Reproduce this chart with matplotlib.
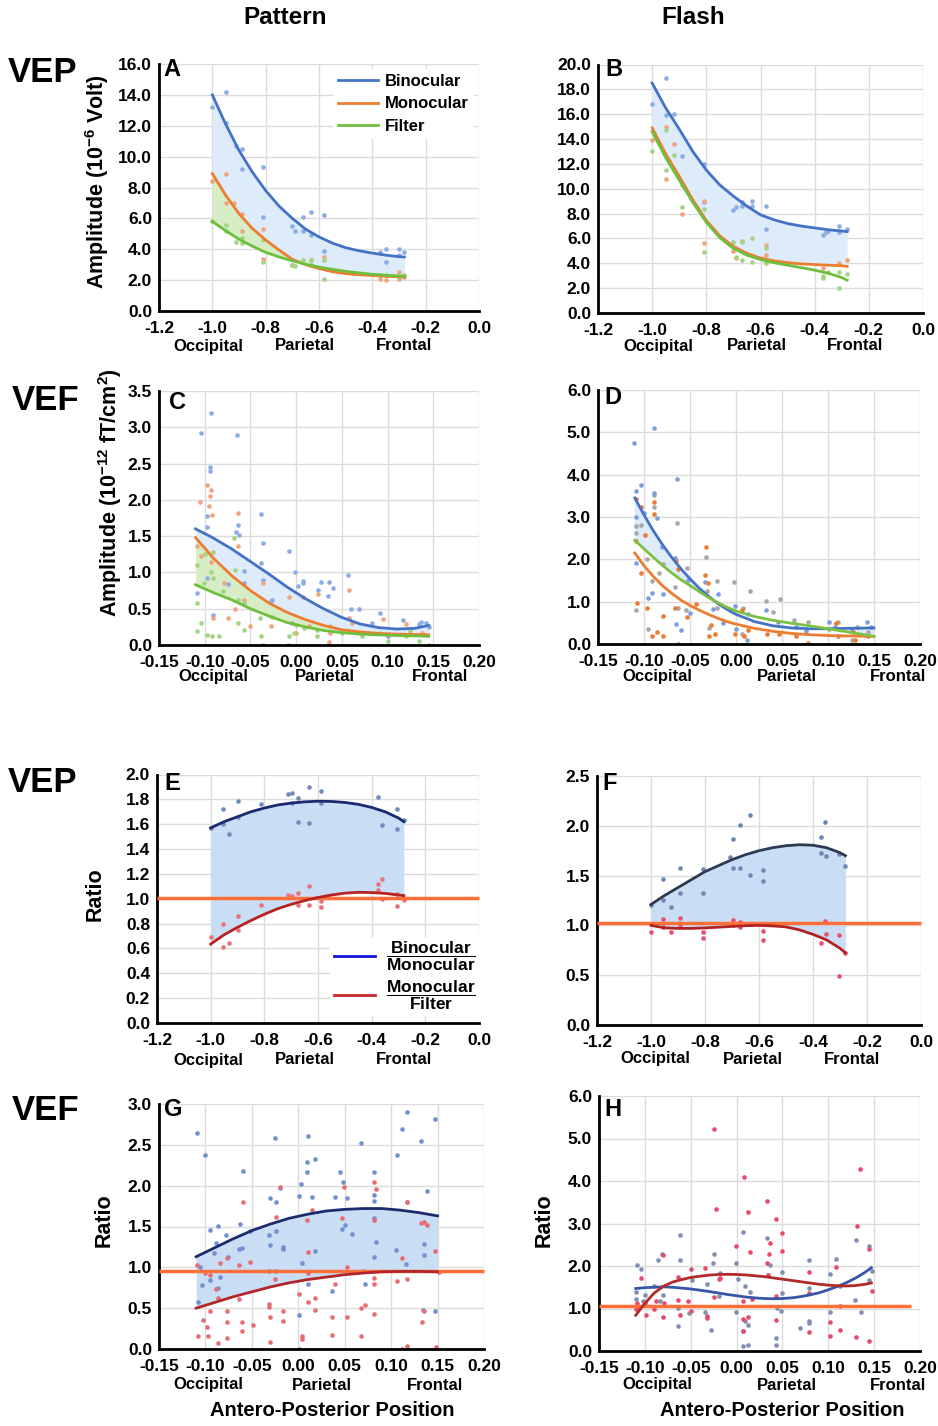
import matplotlib
matplotlib.use('Agg')
import matplotlib.pyplot as plt
from matplotlib.lines import Line2D
import numpy as np

plt.rcParams['font.family'] = ['Liberation Sans', 'DejaVu Sans']
plt.rcParams['font.weight'] = 'bold'
plt.rcParams['mathtext.fontset'] = 'custom'
plt.rcParams['mathtext.rm'] = 'Liberation Sans:bold'
plt.rcParams['mathtext.bf'] = 'Liberation Sans:bold'
plt.rcParams['mathtext.it'] = 'Liberation Sans:bold'
plt.rcParams['axes.unicode_minus'] = False

# %% data: amplitude panels (A-D)

# A - VEP pattern
a_fit_x = [-1.0, -0.95, -0.9, -0.85, -0.8, -0.75, -0.7, -0.65, -0.6, -0.55, -0.5, -0.45, -0.4, -0.35, -0.3, -0.28]
a_bin_fit = [14.0, 12.1, 10.4, 9.0, 7.8, 6.8, 6.0, 5.3, 4.8, 4.4, 4.1, 3.9, 3.75, 3.62, 3.52, 3.5]
a_mon_fit = [8.9, 7.5, 6.3, 5.35, 4.6, 3.95, 3.35, 3.0, 2.75, 2.55, 2.42, 2.35, 2.3, 2.25, 2.22, 2.2]
a_fil_fit = [5.8, 5.2, 4.65, 4.2, 3.8, 3.5, 3.25, 3.03, 2.85, 2.7, 2.57, 2.47, 2.38, 2.32, 2.27, 2.25]
a_bin_pts = [(-1.0, 13.2), (-0.95, 14.2), (-0.95, 12.2), (-0.91, 10.7), (-0.89, 10.5), (-0.89, 9.2),
             (-0.81, 9.3), (-0.81, 6.1), (-0.70, 5.5), (-0.69, 5.2), (-0.66, 6.1), (-0.66, 5.2),
             (-0.63, 6.4), (-0.63, 4.9), (-0.58, 6.2), (-0.58, 3.9), (-0.37, 3.8), (-0.35, 4.0),
             (-0.35, 3.2), (-0.30, 4.0), (-0.28, 3.8), (-0.30, 3.6)]
a_mon_pts = [(-1.0, 8.4), (-0.95, 8.9), (-0.95, 7.0), (-0.92, 7.0), (-0.89, 6.3), (-0.89, 5.2),
             (-0.81, 5.3), (-0.81, 3.4), (-0.70, 3.0), (-0.63, 3.3), (-0.58, 3.5), (-0.37, 2.1),
             (-0.35, 2.0), (-0.30, 2.1), (-0.30, 2.5), (-0.28, 2.2)]
a_fil_pts = [(-1.0, 5.8), (-0.95, 5.6), (-0.95, 5.2), (-0.91, 4.5), (-0.89, 4.4), (-0.89, 4.7),
             (-0.81, 4.6), (-0.81, 3.2), (-0.70, 3.0), (-0.69, 2.9), (-0.66, 3.3), (-0.63, 3.3),
             (-0.63, 3.0), (-0.58, 3.3), (-0.58, 2.1), (-0.37, 2.3), (-0.35, 2.3), (-0.30, 2.2),
             (-0.28, 2.3)]

# B - VEP flash
b_fit_x = [-1.0, -0.95, -0.9, -0.85, -0.8, -0.75, -0.7, -0.65, -0.6, -0.55, -0.5, -0.45, -0.4, -0.35, -0.3, -0.28]
b_bin_fit = [18.5, 16.5, 14.8, 13.0, 11.5, 10.3, 9.4, 8.6, 7.9, 7.5, 7.2, 7.0, 6.85, 6.7, 6.6, 6.55]
b_mon_fit = [14.9, 12.8, 11.0, 9.1, 7.45, 6.2, 5.35, 4.8, 4.42, 4.2, 4.05, 3.95, 3.9, 3.85, 3.8, 3.75]
b_fil_fit = [14.6, 12.5, 10.7, 8.9, 7.3, 6.05, 5.2, 4.65, 4.3, 4.05, 3.85, 3.65, 3.45, 3.2, 2.85, 2.65]
b_bin_pts = [(-1.0, 16.8), (-0.95, 18.9), (-0.95, 15.9), (-0.92, 16.0), (-0.89, 12.6), (-0.81, 12.0),
             (-0.81, 8.9), (-0.70, 8.3), (-0.69, 8.5), (-0.67, 8.9), (-0.67, 8.6), (-0.63, 9.0),
             (-0.63, 8.6), (-0.58, 8.6), (-0.58, 6.8), (-0.37, 6.3), (-0.36, 6.5), (-0.35, 6.6),
             (-0.31, 7.0), (-0.31, 6.5), (-0.28, 6.8)]
b_mon_pts = [(-1.0, 13.9), (-0.95, 15.0), (-0.95, 10.8), (-0.92, 13.6), (-0.89, 8.0), (-0.81, 9.0),
             (-0.81, 5.6), (-0.70, 5.0), (-0.69, 4.4), (-0.67, 5.8), (-0.58, 5.5), (-0.58, 4.7),
             (-0.37, 3.6), (-0.31, 4.0), (-0.28, 4.3)]
b_fil_pts = [(-1.0, 13.0), (-0.95, 14.7), (-0.95, 11.5), (-0.92, 12.7), (-0.89, 10.3), (-0.89, 8.5),
             (-0.81, 8.4), (-0.81, 4.9), (-0.70, 5.7), (-0.69, 4.5), (-0.67, 5.7), (-0.67, 4.3),
             (-0.63, 6.0), (-0.63, 4.1), (-0.58, 5.2), (-0.58, 4.0), (-0.37, 3.0), (-0.37, 2.8),
             (-0.35, 3.3), (-0.31, 3.3), (-0.31, 2.0), (-0.28, 3.1)]

# C - VEF pattern
c_fit_x = [-0.11, -0.09, -0.07, -0.05, -0.03, -0.01, 0.01, 0.03, 0.05, 0.07, 0.09, 0.11, 0.13, 0.145]
c_bin_fit = [1.6, 1.47, 1.32, 1.15, 0.98, 0.8, 0.64, 0.5, 0.38, 0.29, 0.24, 0.22, 0.23, 0.27]
c_mon_fit = [1.48, 1.19, 0.95, 0.75, 0.58, 0.45, 0.35, 0.27, 0.21, 0.18, 0.16, 0.15, 0.145, 0.14]
c_fil_fit = [0.83, 0.72, 0.62, 0.5, 0.4, 0.31, 0.25, 0.2, 0.17, 0.15, 0.14, 0.13, 0.125, 0.12]
c_bin_pts = [(-0.104, 2.92), (-0.093, 3.2), (-0.094, 2.45), (-0.094, 2.4), (-0.097, 1.78), (-0.097, 1.62),
             (-0.065, 2.89), (-0.064, 1.65), (-0.063, 1.52), (-0.066, 1.56), (-0.038, 1.80), (-0.036, 1.40),
             (-0.038, 1.13), (-0.057, 1.02), (-0.057, 0.86), (-0.036, 0.90), (-0.026, 0.62), (-0.008, 1.3),
             (-0.001, 1.0), (0.008, 0.88), (0.008, 0.85), (0.002, 0.81), (0.024, 0.76), (0.027, 0.87),
             (0.036, 0.87), (0.040, 0.79), (0.035, 0.67), (0.057, 0.96), (0.060, 0.50), (0.069, 0.49),
             (0.092, 0.44), (0.117, 0.35), (0.137, 0.32), (0.134, 0.29), (-0.098, 0.93), (-0.108, 0.71),
             (-0.091, 0.42), (-0.074, 0.84), (-0.027, 0.61), (-0.004, 0.31), (0.083, 0.31), (0.100, 0.12),
             (0.142, 0.30), (0.145, 0.25)]
c_mon_pts = [(-0.105, 1.97), (-0.098, 2.2), (-0.093, 2.13), (-0.094, 2.05), (-0.095, 1.91), (-0.092, 1.79),
             (-0.064, 1.82), (-0.064, 1.36), (-0.108, 1.36), (-0.104, 1.23), (-0.093, 1.14), (-0.079, 0.86),
             (-0.067, 0.49), (-0.091, 0.37), (-0.074, 0.37), (-0.057, 0.62), (-0.036, 0.85), (-0.028, 0.26),
             (-0.008, 0.66), (0.008, 0.66), (0.024, 0.70), (0.058, 0.76), (0.058, 0.37), (0.061, 0.31),
             (0.095, 0.36), (0.120, 0.29), (0.036, 0.04), (0.138, 0.17), (0.0, 0.17), (0.014, 0.26),
             (-0.050, 0.26), (0.037, 0.17)]
c_fil_pts = [(-0.108, 1.1), (-0.100, 1.26), (-0.093, 1.0), (-0.091, 0.93), (-0.101, 0.85), (-0.108, 0.58),
             (-0.104, 0.3), (-0.108, 0.19), (-0.098, 0.14), (-0.092, 0.13), (-0.084, 0.12), (-0.064, 0.30),
             (-0.057, 0.21), (-0.064, 0.62), (-0.080, 0.74), (-0.067, 1.04), (-0.057, 0.58), (-0.039, 0.37),
             (-0.038, 0.12), (-0.036, 0.0), (-0.026, 0.39), (-0.008, 0.12), (-0.009, 0.0), (0.0, 0.28),
             (0.009, 0.23), (0.023, 0.12), (0.037, 0.26), (0.050, 0.17), (0.072, 0.12), (0.092, 0.17),
             (0.100, 0.05), (0.120, 0.12), (0.134, 0.05), (0.125, 0.19), (0.023, 0.21), (-0.002, 0.17),
             (-0.068, 1.47), (-0.091, 1.28), (0.145, 0.0)]

# D - VEF flash
d_fit_x = [-0.11, -0.1, -0.09, -0.08, -0.07, -0.06, -0.05, -0.04, -0.03, -0.02, -0.01, 0.0, 0.02, 0.04, 0.06, 0.08, 0.10, 0.12, 0.15]
d_bin_fit = [3.45, 3.05, 2.68, 2.35, 2.05, 1.78, 1.54, 1.32, 1.13, 0.96, 0.82, 0.7, 0.53, 0.43, 0.38, 0.36, 0.36, 0.37, 0.38]
d_mon_fit = [2.15, 1.85, 1.6, 1.38, 1.2, 1.04, 0.91, 0.8, 0.7, 0.61, 0.53, 0.47, 0.37, 0.3, 0.25, 0.22, 0.2, 0.19, 0.18]
d_fil_fit = [2.45, 2.25, 2.05, 1.86, 1.68, 1.52, 1.38, 1.24, 1.1, 0.98, 0.87, 0.78, 0.65, 0.56, 0.49, 0.43, 0.36, 0.29, 0.18]
d_bin_pts = [(-0.111, 4.74), (-0.089, 5.11), (-0.103, 3.76), (-0.109, 3.61), (-0.089, 3.57), (-0.064, 3.89),
             (-0.086, 2.97), (-0.109, 2.99), (-0.100, 3.1), (-0.109, 1.91), (-0.096, 1.08), (-0.091, 1.2),
             (-0.080, 2.29), (-0.079, 1.19), (-0.066, 2.03), (-0.052, 1.52), (-0.065, 0.48), (-0.034, 1.46),
             (-0.020, 1.17), (-0.025, 0.82), (-0.001, 0.9), (0.0, 0.36), (0.013, 0.72), (0.033, 0.81),
             (0.046, 0.53), (0.065, 0.39), (0.101, 0.53), (0.108, 0.39), (0.142, 0.53), (0.147, 0.39),
             (0.126, 0.35), (0.076, 0.30), (0.012, 0.09), (-0.014, 0.49), (-0.050, 0.73), (-0.060, 0.33)]
d_mon_pts = [(-0.109, 3.42), (-0.089, 3.35), (-0.089, 3.06), (-0.103, 3.24), (-0.099, 2.58), (-0.109, 2.43),
             (-0.103, 1.67), (-0.108, 0.97), (-0.097, 0.84), (-0.091, 0.18), (-0.086, 0.28), (-0.079, 0.18),
             (-0.079, 0.66), (-0.065, 1.97), (-0.063, 1.76), (-0.066, 0.86), (-0.063, 0.0), (-0.053, 0.63),
             (-0.033, 2.29), (-0.034, 1.64), (-0.030, 1.43), (-0.027, 0.44), (-0.023, 0.24), (-0.029, 0.18),
             (-0.001, 0.24), (0.006, 0.8), (0.013, 0.33), (0.009, 0.18), (0.034, 0.24), (0.047, 0.24),
             (0.065, 0.18), (0.078, 0.02), (0.109, 0.49), (0.111, 0.18), (0.127, 0.28), (0.129, 0.09),
             (0.143, 0.18), (-0.044, 0.95)]
d_fil_pts = [(-0.109, 2.78), (-0.103, 2.82), (-0.109, 2.62), (-0.089, 3.51), (-0.089, 3.24), (-0.097, 2.0),
             (-0.091, 1.5), (-0.084, 1.67), (-0.079, 1.89), (-0.064, 2.86), (-0.066, 1.34), (-0.063, 0.84),
             (-0.053, 1.79), (-0.054, 0.81), (-0.033, 2.05), (-0.031, 1.26), (-0.021, 1.5), (-0.021, 0.86),
             (-0.029, 0.37), (-0.002, 1.46), (0.015, 1.26), (0.008, 0.86), (0.006, 0.24), (0.033, 1.01),
             (0.048, 1.06), (0.040, 0.76), (0.063, 0.56), (0.078, 0.53), (0.076, 0.35), (0.101, 0.35),
             (0.111, 0.53), (0.131, 0.41), (0.143, 0.28), (0.126, 0.09), (-0.096, 0.36), (-0.109, 0.81)]

# %% data: ratio panels (E-H)

# E - VEP pattern ratios
e_fit_x = [-1.0, -0.95, -0.9, -0.85, -0.8, -0.75, -0.7, -0.65, -0.6, -0.55, -0.5, -0.45, -0.4, -0.35, -0.3, -0.28]
e_bm_fit = [1.57, 1.62, 1.66, 1.70, 1.73, 1.755, 1.77, 1.78, 1.785, 1.783, 1.775, 1.76, 1.735, 1.70, 1.65, 1.62]
e_mf_fit = [0.635, 0.71, 0.77, 0.825, 0.875, 0.92, 0.955, 0.985, 1.01, 1.03, 1.045, 1.052, 1.05, 1.043, 1.03, 1.025]
e_bm_pts = [(-1.0, 1.57), (-0.955, 1.72), (-0.955, 1.6), (-0.93, 1.52), (-0.897, 1.79), (-0.897, 1.66),
            (-0.811, 1.76), (-0.71, 1.84), (-0.697, 1.85), (-0.696, 1.77), (-0.673, 1.81), (-0.675, 1.62),
            (-0.635, 1.9), (-0.635, 1.61), (-0.588, 1.87), (-0.588, 1.77), (-0.375, 1.82), (-0.362, 1.59),
            (-0.306, 1.72), (-0.306, 1.56), (-0.281, 1.63)]
e_mf_pts = [(-1.0, 0.69), (-0.955, 0.8), (-0.955, 0.61), (-0.93, 0.64), (-0.897, 0.86), (-0.897, 0.75),
            (-0.811, 0.95), (-0.71, 1.03), (-0.697, 1.02), (-0.673, 1.05), (-0.673, 0.95), (-0.635, 1.1),
            (-0.635, 0.95), (-0.588, 0.98), (-0.588, 0.93), (-0.375, 1.12), (-0.362, 1.16), (-0.375, 1.07),
            (-0.362, 1.0), (-0.306, 1.04), (-0.306, 0.94), (-0.281, 0.99)]
e_ref_level = 1.01

# F - VEP flash ratios
f_fit_x = [-1.0, -0.95, -0.9, -0.85, -0.8, -0.75, -0.7, -0.65, -0.6, -0.55, -0.5, -0.45, -0.4, -0.35, -0.3, -0.28]
f_bm_fit = [1.21, 1.30, 1.38, 1.46, 1.54, 1.60, 1.66, 1.71, 1.75, 1.78, 1.80, 1.81, 1.805, 1.78, 1.73, 1.70]
f_mf_fit = [1.0, 0.975, 0.97, 0.97, 0.975, 0.982, 0.99, 0.997, 1.0, 0.995, 0.985, 0.955, 0.91, 0.855, 0.77, 0.725]
f_bm_pts = [(-1.0, 1.2), (-0.954, 1.47), (-0.954, 1.26), (-0.926, 1.18), (-0.893, 1.58), (-0.893, 1.33),
            (-0.808, 1.57), (-0.808, 1.33), (-0.697, 1.87), (-0.706, 1.69), (-0.697, 1.58), (-0.671, 2.01),
            (-0.671, 1.58), (-0.633, 2.11), (-0.633, 1.51), (-0.585, 1.56), (-0.585, 1.45), (-0.372, 1.89),
            (-0.357, 2.04), (-0.372, 1.73), (-0.353, 1.70), (-0.304, 1.72), (-0.28, 1.6)]
f_mf_pts = [(-1.0, 0.93), (-0.954, 1.06), (-0.954, 0.98), (-0.926, 0.93), (-0.893, 1.07), (-0.893, 1.0),
            (-0.808, 0.93), (-0.808, 0.87), (-0.697, 1.05), (-0.697, 1.0), (-0.671, 1.03), (-0.671, 0.98),
            (-0.585, 0.94), (-0.585, 0.85), (-0.372, 0.82), (-0.357, 1.04), (-0.353, 0.91), (-0.304, 0.9),
            (-0.304, 0.49), (-0.28, 0.72)]
f_ref_level = 1.02

# G - VEF pattern ratios
g_fit_x = [-0.11, -0.09, -0.07, -0.05, -0.03, -0.01, 0.01, 0.03, 0.05, 0.07, 0.09, 0.11, 0.13, 0.15]
g_bm_fit = [1.13, 1.24, 1.35, 1.45, 1.53, 1.6, 1.65, 1.69, 1.71, 1.72, 1.72, 1.70, 1.67, 1.63]
g_mf_fit = [0.5, 0.57, 0.64, 0.7, 0.76, 0.81, 0.85, 0.88, 0.91, 0.93, 0.945, 0.95, 0.95, 0.945]
g_bm_pts = [(-0.109, 2.64), (-0.101, 2.38), (-0.060, 2.18), (-0.025, 2.58), (0.010, 2.61), (0.009, 2.29),
            (0.018, 2.33), (0.009, 2.17), (0.003, 2.02), (0.001, 1.87), (0.015, 1.86), (0.039, 1.86),
            (0.045, 2.17), (0.048, 2.05), (0.052, 1.85), (0.068, 2.52), (0.082, 2.17), (0.082, 1.88),
            (0.082, 1.81), (0.082, 1.6), (0.084, 1.31), (0.082, 1.13), (0.106, 2.37), (0.112, 2.7),
            (0.117, 2.9), (0.117, 1.8), (0.132, 2.55), (0.139, 1.93), (0.147, 2.82), (0.135, 1.28),
            (0.135, 1.15), (0.147, 0.47), (0.134, 0.48), (0.105, 1.21), (0.116, 1.04), (0.058, 1.41),
            (0.050, 1.52), (0.047, 1.47), (0.036, 0.71), (0.001, 0.42), (0.010, 0.79), (0.018, 1.2),
            (0.004, 1.05), (-0.016, 1.23), (-0.017, 1.25), (-0.032, 1.39), (-0.030, 1.27), (-0.024, 1.44),
            (-0.024, 1.8), (-0.020, 1.97), (-0.030, 1.85), (-0.052, 1.45), (-0.063, 1.53), (-0.061, 1.24),
            (-0.064, 1.23), (-0.078, 1.4), (-0.076, 1.13), (-0.086, 1.51), (-0.089, 1.3), (-0.095, 1.46),
            (-0.091, 1.17), (-0.084, 0.88), (-0.095, 0.85), (-0.104, 0.78), (-0.108, 0.57), (-0.106, 1.0),
            (-0.086, 0.75), (-0.032, 0.96), (-0.024, 0.96), (0.072, 0.80), (0.070, 0.96)]
g_mf_pts = [(-0.109, 1.03), (-0.101, 0.93), (-0.095, 0.91), (-0.089, 0.73), (-0.084, 1.05), (-0.077, 1.12),
            (-0.060, 1.8), (-0.064, 1.03), (-0.052, 1.07), (-0.064, 0.61), (-0.061, 0.33), (-0.049, 0.29),
            (-0.061, 0.22), (-0.077, 0.46), (-0.077, 0.33), (-0.077, 0.14), (-0.086, 0.07), (-0.097, 0.16),
            (-0.108, 0.16), (-0.098, 0.27), (-0.103, 0.35), (-0.095, 0.47), (-0.086, 0.62), (-0.024, 1.62),
            (-0.020, 1.98), (-0.025, 0.86), (-0.032, 0.55), (-0.032, 0.52), (-0.030, 0.39), (-0.030, 0.08),
            (-0.016, 0.46), (-0.016, 0.34), (0.001, 0.67), (0.004, 0.16), (0.004, 0.12), (0.001, 0.0),
            (0.010, 0.57), (0.018, 0.63), (0.018, 0.48), (0.010, 1.19), (0.010, 0.93), (0.015, 1.7),
            (0.009, 1.58), (0.036, 0.39), (0.036, 0.17), (0.039, 0.8), (0.047, 1.6), (0.049, 1.98),
            (0.052, 0.39), (0.052, 1.01), (0.068, 0.5), (0.068, 0.16), (0.072, 0.54), (0.082, 2.05),
            (0.084, 1.96), (0.082, 1.58), (0.082, 0.87), (0.082, 0.79), (0.082, 0.43), (0.106, 0.83),
            (0.112, 1.11), (0.117, 1.8), (0.117, 0.86), (0.112, 0.0), (0.117, 0.04), (0.132, 1.54),
            (0.135, 1.55), (0.139, 1.52), (0.133, 0.33), (0.135, 0.46), (0.147, 1.2), (0.148, 0.02),
            (0.151, 0.94)]
g_ref_level = 0.95

# H - VEF flash ratios
h_fit_x = [-0.11, -0.10, -0.09, -0.08, -0.07, -0.06, -0.05, -0.04, -0.03, -0.02, -0.01, 0.0, 0.01, 0.02,
           0.03, 0.04, 0.05, 0.06, 0.07, 0.08, 0.09, 0.10, 0.11, 0.12, 0.13, 0.14, 0.147]
h_bm_fit = [1.47, 1.49, 1.5, 1.51, 1.5, 1.48, 1.46, 1.43, 1.4, 1.365, 1.33, 1.3, 1.27, 1.25,
            1.235, 1.23, 1.235, 1.25, 1.28, 1.32, 1.37, 1.44, 1.52, 1.61, 1.72, 1.85, 1.96]
h_mf_fit = [0.84, 1.12, 1.36, 1.52, 1.62, 1.68, 1.73, 1.76, 1.785, 1.8, 1.805, 1.8, 1.79, 1.77,
            1.75, 1.72, 1.69, 1.66, 1.63, 1.6, 1.57, 1.55, 1.535, 1.53, 1.54, 1.57, 1.6]
h_bm_pts = [(-0.109, 2.03), (-0.104, 1.93), (-0.11, 1.38), (-0.11, 1.23), (-0.1, 1.32), (-0.102, 1.18),
            (-0.090, 1.53), (-0.086, 2.14), (-0.081, 2.28), (-0.080, 1.32), (-0.083, 1.18), (-0.062, 2.74),
            (-0.062, 2.13), (-0.064, 1.02), (-0.064, 0.58), (-0.049, 1.67), (-0.052, 0.9), (-0.032, 1.58),
            (-0.025, 2.28), (-0.026, 2.08), (-0.028, 0.5), (-0.034, 0.92), (-0.018, 1.83), (-0.019, 1.29),
            (-0.001, 2.08), (0.002, 1.69), (-0.001, 0.92), (0.007, 2.81), (0.009, 1.53), (0.007, 0.46),
            (0.009, 0.7), (0.013, 0.62), (0.013, 0.15), (0.007, 0.11), (0.015, 1.39), (0.033, 2.67),
            (0.034, 1.8), (0.036, 2.03), (0.043, 0.3), (0.043, 0.15), (0.044, 1.02), (0.048, 0.94),
            (0.049, 1.86), (0.049, 1.36), (0.069, 0.53), (0.079, 2.14), (0.079, 1.49), (0.079, 0.7),
            (0.079, 0.66), (0.102, 1.81), (0.102, 0.92), (0.108, 2.17), (0.113, 1.53), (0.130, 2.61),
            (0.129, 1.2), (0.136, 0.92), (0.144, 2.47), (0.144, 1.67), (0.148, 1.88)]
h_mf_pts = [(-0.109, 1.14), (-0.109, 1.0), (-0.11, 0.99), (-0.104, 1.71), (-0.099, 0.84), (-0.1, 1.14),
            (-0.090, 0.99), (-0.088, 1.18), (-0.080, 2.25), (-0.080, 0.81), (-0.079, 1.14), (-0.064, 1.75),
            (-0.064, 1.2), (-0.062, 0.84), (-0.053, 1.18), (-0.050, 1.92), (-0.050, 0.94), (-0.034, 1.96),
            (-0.032, 0.78), (-0.032, 0.83), (-0.025, 5.22), (-0.025, 1.28), (-0.022, 3.35), (-0.019, 1.69),
            (-0.018, 1.71), (-0.001, 2.47), (0.007, 1.18), (0.007, 0.75), (0.007, 0.46), (0.008, 4.09),
            (0.012, 3.27), (0.012, 0.81), (0.015, 2.33), (0.017, 1.22), (0.033, 3.53), (0.036, 2.53),
            (0.035, 2.28), (0.033, 2.06), (0.034, 1.8), (0.043, 3.1), (0.043, 1.3), (0.043, 0.73),
            (0.049, 2.77), (0.049, 2.36), (0.079, 1.86), (0.079, 1.37), (0.079, 0.45), (0.102, 0.68),
            (0.102, 0.35), (0.108, 1.98), (0.113, 1.06), (0.113, 0.49), (0.130, 0.34), (0.131, 2.94),
            (0.135, 4.28), (0.144, 0.24), (0.144, 2.41), (0.148, 1.41)]
h_ref_level = 1.06
h_ref_span = (-0.15, 0.19)

# tick positions
ap_xticks = [-1.2, -1.0, -0.8, -0.6, -0.4, -0.2, 0.0]
ms_xticks = [-0.15, -0.10, -0.05, 0.00, 0.05, 0.10, 0.15, 0.20]

# %% colours
c_bin, c_mon, c_fil = '#4472C4', '#ED7D31', '#6FBF3F'
p_bin, p_mon, p_fil = '#8DACE3', '#F0A57E', '#A3D485'
fill_blue, fill_green = '#DDEBFA', '#D7EDC6'
ratio_fill = '#C9DDF5'
ref_col = '#FF7038'

# %% figure
W, H = 938, 1426
fig = plt.figure(figsize=(W / 100, H / 100), dpi=100)


def px_axes(left, top, right, bottom):
    return fig.add_axes([left / W, 1 - bottom / H, (right - left) / W, (bottom - top) / H])


def ftext(x, y, s, **kw):
    fig.text(x / W, 1 - y / H, s, **kw)


def style(ax, xticks, xfmt, ylim, ystep):
    ax.set_xlim(xticks[0], xticks[-1])
    ax.set_xticks(xticks)
    ax.set_xticklabels([xfmt % t for t in xticks])
    yt = np.round(np.arange(ylim[0], ylim[1] + ystep / 2, ystep), 2)
    ax.set_ylim(ylim)
    ax.set_yticks(yt)
    ax.set_yticklabels(['%.1f' % t for t in yt])
    ax.grid(True, color='#DCDCDC', lw=1)
    ax.set_axisbelow(True)
    for s in ['top', 'right']:
        ax.spines[s].set_visible(False)
    for s in ['left', 'bottom']:
        ax.spines[s].set_linewidth(2.0)
        ax.spines[s].set_color('black')
    ax.tick_params(axis='both', length=0, labelsize=12.5)
    ax.tick_params(axis='x', pad=7)
    ax.tick_params(axis='y', pad=5)


def pts(ax, p, color):
    x, y = np.array(p).T
    ax.scatter(x, y, s=11, color=color, lw=0, zorder=2)


def regions(xs, y):
    for x, s in zip(xs, ['Occipital', 'Parietal', 'Frontal']):
        ftext(x, y, s, ha='center', va='center', fontsize=12)


# panel A
axA = px_axes(159, 64, 479, 311)
style(axA, ap_xticks, '%.1f', (0, 16), 2)
axA.fill_between(a_fit_x, a_bin_fit, a_mon_fit, color=fill_blue, lw=0, zorder=1)
axA.fill_between(a_fit_x, a_mon_fit, a_fil_fit, where=np.array(a_mon_fit) >= np.array(a_fil_fit),
                 interpolate=True, color=fill_green, lw=0, zorder=1)
pts(axA, a_bin_pts, p_bin)
pts(axA, a_mon_pts, p_mon)
pts(axA, a_fil_pts, p_fil)
axA.plot(a_fit_x, a_bin_fit, color=c_bin, lw=2, label='Binocular', zorder=3)
axA.plot(a_fit_x, a_mon_fit, color=c_mon, lw=2, label='Monocular', zorder=3)
axA.plot(a_fit_x, a_fil_fit, color=c_fil, lw=2, label='Filter', zorder=3)
leg = axA.legend(loc='upper right', bbox_to_anchor=(1.0, 1.0), fontsize=12, frameon=True,
                 facecolor='white', edgecolor='none', framealpha=1, fancybox=False,
                 handlelength=2.4, handletextpad=0.4, labelspacing=0.45, borderpad=0.3,
                 borderaxespad=0.3)

# panel B
axB = px_axes(598, 64.5, 923, 313)
style(axB, ap_xticks, '%.1f', (0, 20), 2)
axB.fill_between(b_fit_x, b_bin_fit, b_mon_fit, color=fill_blue, lw=0, zorder=1)
pts(axB, b_bin_pts, p_bin)
pts(axB, b_mon_pts, p_mon)
pts(axB, b_fil_pts, p_fil)
axB.plot(b_fit_x, b_bin_fit, color=c_bin, lw=2, zorder=3)
axB.plot(b_fit_x, b_mon_fit, color=c_mon, lw=2, zorder=3)
axB.plot(b_fit_x, b_fil_fit, color=c_fil, lw=2, zorder=3)

# panel C
axC = px_axes(159, 391, 479, 645)
style(axC, ms_xticks, '%.2f', (0, 3.5), 0.5)
axC.fill_between(c_fit_x, c_bin_fit, c_mon_fit, color=fill_blue, lw=0, zorder=1)
axC.fill_between(c_fit_x, c_mon_fit, c_fil_fit, color=fill_green, lw=0, zorder=1)
pts(axC, c_bin_pts, p_bin)
pts(axC, c_mon_pts, p_mon)
pts(axC, c_fil_pts, p_fil)
axC.plot(c_fit_x, c_bin_fit, color=c_bin, lw=2, zorder=3)
axC.plot(c_fit_x, c_mon_fit, color=c_mon, lw=2, zorder=3)
axC.plot(c_fit_x, c_fil_fit, color=c_fil, lw=2, zorder=3)

# panel D
axD = px_axes(598, 390, 920, 644)
style(axD, ms_xticks, '%.2f', (0, 6), 1)
axD.fill_between(d_fit_x, d_bin_fit, d_fil_fit, where=np.array(d_bin_fit) >= np.array(d_fil_fit),
                 interpolate=True, color=fill_blue, lw=0, zorder=1)
pts(axD, d_fil_pts, '#A8A8A8')
pts(axD, d_bin_pts, '#7C9EE0')
pts(axD, d_mon_pts, '#EE7B2F')
axD.plot(d_fit_x, d_bin_fit, color=c_bin, lw=2, zorder=3)
axD.plot(d_fit_x, d_mon_fit, color=c_mon, lw=2, zorder=3)
axD.plot(d_fit_x, d_fil_fit, color='#7CC242', lw=2, zorder=3)


def ratio_panel(ax, fx, bm, mf, bm_p, mf_p, ref, span, cols, fill=True):
    if fill:
        ax.fill_between(fx, bm, mf, color=ratio_fill, lw=0, zorder=1)
    pts(ax, bm_p, cols[2])
    pts(ax, mf_p, cols[3])
    ax.hlines(ref, span[0], span[1], color=ref_col, lw=2.5, zorder=3, clip_on=False)
    ax.plot(fx, bm, color=cols[0], lw=2, zorder=4)
    ax.plot(fx, mf, color=cols[1], lw=2, zorder=4)


# panel E
axE = px_axes(157, 774.5, 479, 1023)
style(axE, ap_xticks, '%.1f', (0, 2.0), 0.2)
ratio_panel(axE, e_fit_x, e_bm_fit, e_mf_fit, e_bm_pts, e_mf_pts, e_ref_level, (-1.2, 0.0),
            ['#1B2A6E', '#B52222', '#6F8CBA', '#E8737E'])
handles = [Line2D([], [], color='#1414E0', lw=2), Line2D([], [], color='#C8262D', lw=2)]
labels = [r'$\dfrac{\mathbf{Binocular}}{\mathbf{Monocular}}$', r'$\dfrac{\mathbf{Monocular}}{\mathbf{Filter}}$']
axE.legend(handles, labels, loc='lower right', bbox_to_anchor=(1.0, 0.03), fontsize=12.5,
           frameon=True, facecolor='white', edgecolor='none', framealpha=1, fancybox=False,
           handlelength=2.4, handletextpad=0.6, labelspacing=0.3, borderpad=0.2, borderaxespad=0)

# panel F
axF = px_axes(597, 776, 921, 1025)
style(axF, ap_xticks, '%.1f', (0, 2.5), 0.5)
ratio_panel(axF, f_fit_x, f_bm_fit, f_mf_fit, f_bm_pts, f_mf_pts, f_ref_level, (-1.2, 0.0),
            ['#2E3A52', '#B22222', '#6F87B3', '#E8506E'])

# panel G
axG = px_axes(159, 1104, 484, 1349)
style(axG, ms_xticks, '%.2f', (0, 3.0), 0.5)
ratio_panel(axG, g_fit_x, g_bm_fit, g_mf_fit, g_bm_pts, g_mf_pts, g_ref_level, (-0.15, 0.20),
            ['#1B2B6B', '#B0262A', '#7090CF', '#E86C73'])

# panel H
axH = px_axes(599, 1096, 920, 1351)
style(axH, ms_xticks, '%.2f', (0, 6.0), 1.0)
ratio_panel(axH, h_fit_x, h_bm_fit, h_mf_fit, h_bm_pts, h_mf_pts, h_ref_level, h_ref_span,
            ['#3756A8', '#B22A2A', '#8090B0', '#E84A6C'], fill=False)

# %% text
ftext(285, 18, 'Pattern', ha='center', va='center', fontsize=17.5)
ftext(693, 18, 'Flash', ha='center', va='center', fontsize=17.5)
for y, s in [(73, 'VEP'), (401, 'VEF'), (783, 'VEP'), (1110, 'VEF')]:
    ftext(8 if s == 'VEP' else 12, y, s, ha='left', va='center', fontsize=25)
for x, y, s in [(163, 70, 'A'), (605, 70, 'B'), (169, 403, 'C'), (604, 398, 'D'),
                (164, 783, 'E'), (602, 783, 'F'), (164, 1110, 'G'), (604, 1109, 'H')]:
    ftext(x, y, s, ha='left', va='center', fontsize=17)

ftext(97, 182, r'Amplitude (10$^{\mathbf{-6}}$ Volt)', rotation=90, ha='center', va='center', fontsize=15.5)
ftext(110, 493, r'Amplitude (10$^{\mathbf{-12}}$ fT/cm$^{\mathbf{2}}$)', rotation=90, ha='center', va='center', fontsize=15.5)
ftext(95, 894, 'Ratio', rotation=90, ha='center', va='center', fontsize=15.5)
ftext(104, 1220, 'Ratio', rotation=90, ha='center', va='center', fontsize=15.5)
ftext(544, 1220, 'Ratio', rotation=90, ha='center', va='center', fontsize=15.5)

regions([208, 305, 404], 346)
regions([658, 757, 855], 346)
regions([213, 325, 440], 677)
regions([657, 787, 898], 676)
regions([208, 305, 404], 1060)
regions([655, 753, 852], 1059)
regions([208, 322, 435], 1385)
regions([657, 787, 898], 1385)
ftext(332, 1410, 'Antero-Posterior Position', ha='center', va='center', fontsize=14.5)
ftext(782, 1410, 'Antero-Posterior Position', ha='center', va='center', fontsize=14.5)

fig.savefig('out.png', dpi=100)
